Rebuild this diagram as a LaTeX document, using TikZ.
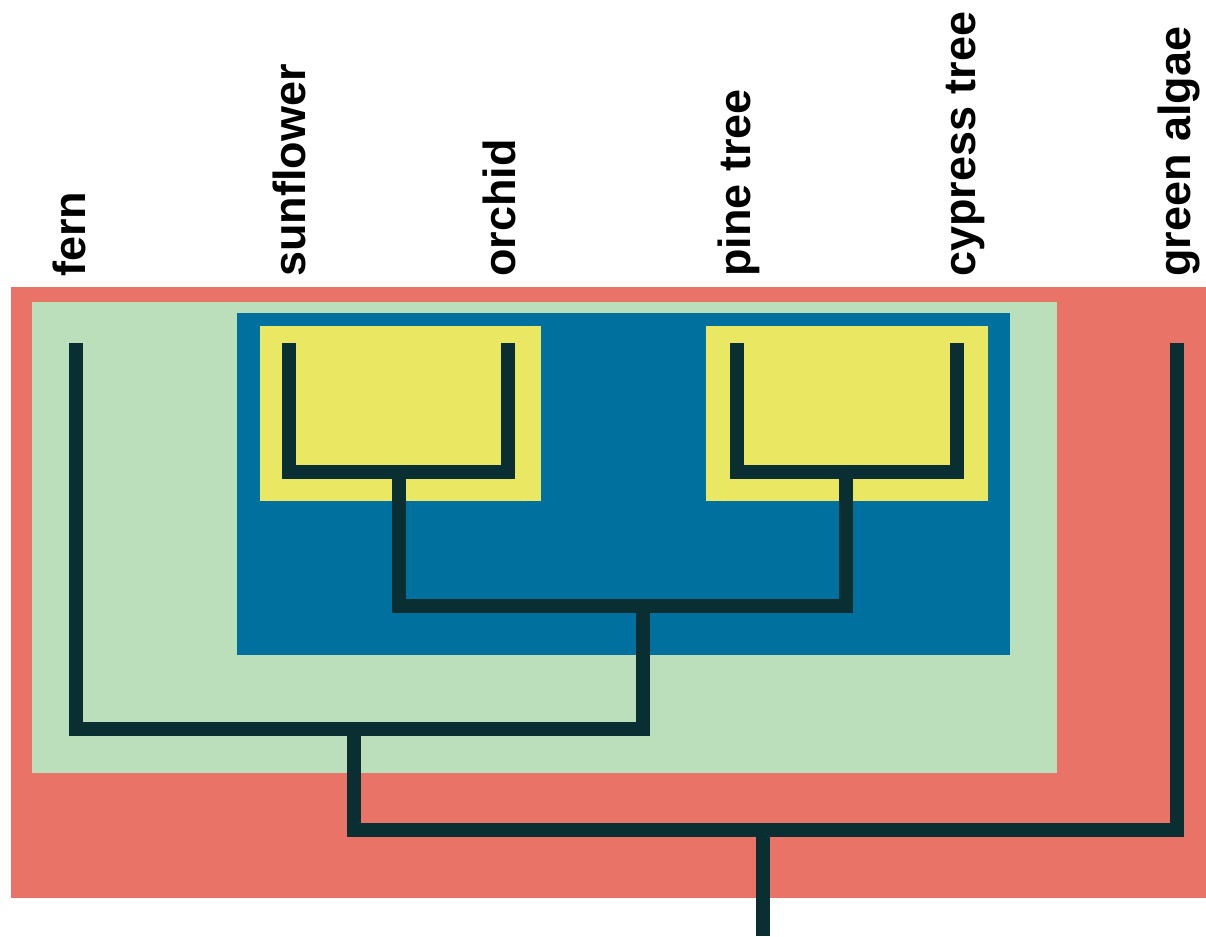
\documentclass[tikz,border=0pt]{standalone}
\usepackage{fontspec}
\setmainfont{Liberation Sans}
\usepackage{xcolor}
\usepackage{tikz}
\usetikzlibrary{positioning}
\definecolor{outerred}{RGB}{232,115,102}
\definecolor{palegreen}{RGB}{187,223,187}
\definecolor{deepblue}{RGB}{0,112,159}
\definecolor{lemon}{RGB}{234,232,98}
\definecolor{branchdark}{RGB}{10,47,51}

\begin{document}
\begin{tikzpicture}[
        x=0.02cm, y=-0.02cm,
        clade/.style={fill=#1,draw=none},
        taxon/.style={rotate=90,anchor=base west,inner sep=0pt,font=\bfseries\fontsize{25.6}{30}\selectfont},
        branch/.style={draw=branchdark,line width=0.27cm,line cap=butt,line join=miter}
      ]
        \useasboundingbox (0,0) rectangle (1206,936);

        % nested groups
        \fill[clade=outerred]  (11,287)  rectangle (1206,898);
        \fill[clade=palegreen] (32,302)  rectangle (1057,773);
        \fill[clade=deepblue]  (237,313) rectangle (1010,655);
        \fill[clade=lemon]     (260,326) rectangle (541,501);
        \fill[clade=lemon]     (706,326) rectangle (988,501);

        % taxa
        \node[taxon] (fern)      at (85,277)   {fern};
        \node[taxon] (sunflower) at (305,277)  {sunflower};
        \node[taxon] (orchid)    at (515,277)  {orchid};
        \node[taxon] (pine)      at (750,277)  {pine tree};
        \node[taxon] (cypress)   at (975,277)  {cypress tree};
        \node[taxon] (algae)     at (1190,277) {green algae};

        \coordinate (fern-tip)      at (76,343);
        \coordinate (sunflower-tip) at (289,343);
        \coordinate (orchid-tip)    at (508,343);
        \coordinate (pine-tip)      at (737,343);
        \coordinate (cypress-tip)   at (957,343);
        \coordinate (algae-tip)     at (1177,343);

        % internal nodes
        \coordinate (flowering) at (399,472);
        \coordinate (conifers)  at (846,472);
        \coordinate (seed)      at (643,606);
        \coordinate (vascular)  at (354,729);
        \coordinate (plants)    at (763,830);
        \coordinate (root)      at (763,936);

        \draw[branch] (sunflower-tip) |- (flowering) -| (orchid-tip);
        \draw[branch] (pine-tip) |- (conifers) -| (cypress-tip);
        \draw[branch] (flowering) |- (seed) -| (conifers);
        \draw[branch] (fern-tip) |- (vascular) -| (seed);
        \draw[branch] (vascular) |- (plants) -| (algae-tip);
        \draw[branch] (plants) -- (root);
      \end{tikzpicture}
\end{document}
